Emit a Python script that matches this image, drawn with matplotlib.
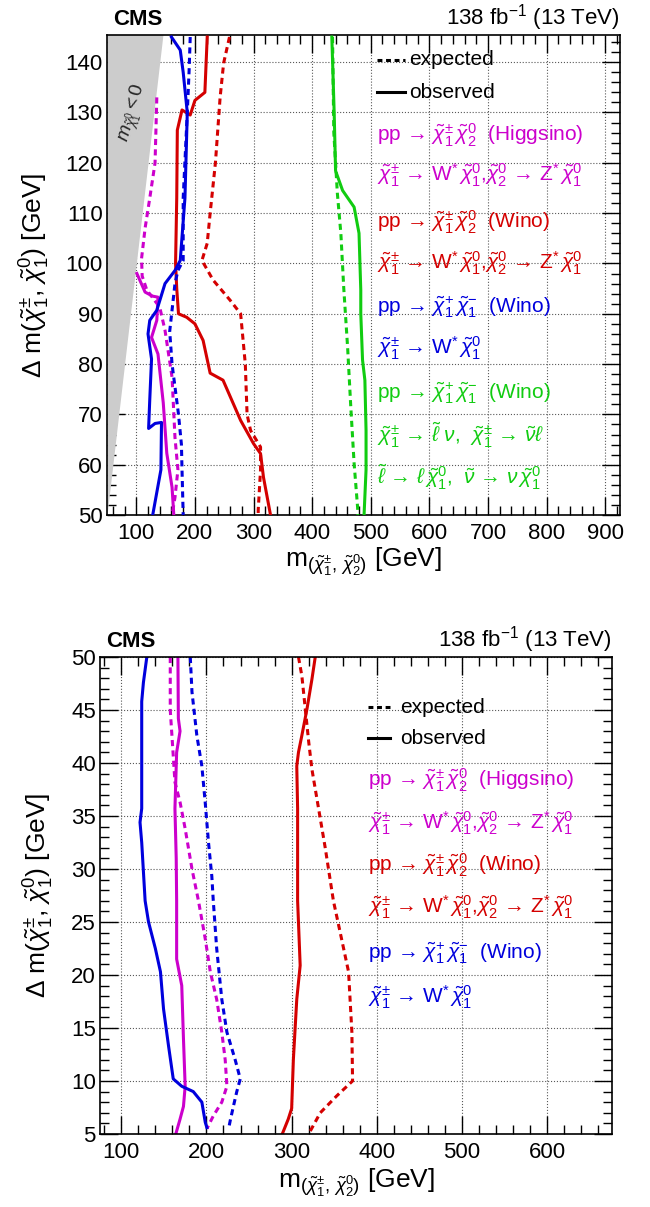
import numpy as np
import matplotlib
matplotlib.use('Agg')
import matplotlib.pyplot as plt
from matplotlib.ticker import MultipleLocator

plt.rcParams['font.family'] = ['Liberation Sans', 'DejaVu Sans']
plt.rcParams['mathtext.fontset'] = 'custom'
plt.rcParams['mathtext.rm'] = 'Liberation Sans'
plt.rcParams['mathtext.it'] = 'Liberation Sans:italic'
plt.rcParams['mathtext.bf'] = 'Liberation Sans:bold'

# ---- top panel (dm 50-145 GeV) ----
top_hig_obs_m = [101, 115, 128, 137, 135, 126, 137, 146, 152, 161, 164]
top_hig_obs_dm = [98, 94.3, 93.5, 93.3, 88.7, 85.3, 82, 72.3, 62.3, 55.5, 50]
top_hig_exp_m = [135, 132, 123, 115, 109, 110, 118, 140, 149, 161, 166, 171, 166, 161]
top_hig_exp_dm = [133, 120, 113, 107, 101, 97.5, 94.7, 91.3, 86.7, 77.4, 65.4, 59, 53.5, 50]

top_wz_obs_m = [221, 217, 200, 192, 178, 170, 169, 167, 169, 172, 186, 200, 214, 226, 248, 278, 300, 312, 317, 329]
top_wz_obs_dm = [145, 134, 132.4, 129.5, 130.5, 126.5, 113, 100, 95, 90, 89.3, 88, 84.7, 78.2, 76.8, 68.8, 64.2, 62.2, 57.5, 50]
top_wz_exp_m = [259, 249, 243, 235, 226, 221, 212, 231, 260, 278, 286, 289, 295, 312, 312, 308, 308]
top_wz_exp_dm = [145, 139.8, 133, 120, 110, 104, 100.6, 96.7, 92.7, 90, 80, 70, 66.8, 63.5, 59, 51, 50]

top_ww_obs_m = [160, 175, 180, 187, 183, 175, 166, 149, 135, 123, 120, 126, 123, 121, 132, 143, 142, 128]
top_ww_obs_dm = [145, 142.4, 138, 130, 113, 100.6, 98.6, 96, 90.7, 88.7, 86, 81, 73, 67.2, 68.2, 68.4, 59, 50]
top_ww_exp_m = [192, 190, 187, 180, 180, 171, 166, 157, 161, 172, 177, 178, 180]
top_ww_exp_dm = [145, 138, 130, 113, 100.6, 98.6, 96, 86.5, 80, 70, 64, 59, 50]

top_slep_obs_m = [433.6, 437.6, 440, 452, 471.6, 480, 483, 483, 486, 490, 492, 492, 488.6]
top_slep_obs_dm = [145, 130, 118.4, 114.5, 111.2, 106, 94.7, 90, 80.8, 76.8, 66.8, 59, 50]
top_slep_exp_m = [434.8, 437, 443, 449, 454, 460.5, 466, 471.6, 477.6, 478]
top_slep_exp_dm = [145, 126, 114, 106, 95, 83.4, 71.4, 60.3, 51.5, 50]

# kinematic boundary m(chi10) = 0  ->  dm = m
kin_m = np.array([50, 150])

# ---- bottom panel (dm 5-50 GeV) ----
bot_hig_obs_m = [166.5, 167, 169, 165, 163, 164.5, 165, 165, 171, 173, 175, 173, 169, 164]
bot_hig_obs_dm = [50, 44.2, 43, 41, 35.7, 31, 27, 21.5, 19, 14, 9.5, 7.6, 6.4, 5]
bot_hig_exp_m = [157.5, 157.5, 161, 163, 169, 175, 183, 190.6, 198.6, 204.5, 212, 218, 222, 224, 218, 208, 200.5]
bot_hig_exp_dm = [50, 45, 40.7, 38.2, 36.3, 33.8, 30, 27, 23.4, 20.3, 17.7, 14.6, 12, 9.5, 8, 6.7, 5.5]

bot_wz_obs_m = [327.7, 323.8, 318, 312, 308, 306, 307, 307, 310, 306, 302, 300, 296, 289]
bot_wz_obs_dm = [50, 47.9, 45.1, 42.6, 41, 39.7, 35.7, 27, 20.9, 17.7, 12, 7.4, 6.4, 5]
bot_wz_exp_m = [308, 312, 316, 320, 323.8, 331.6, 339.4, 349, 357, 366.8, 370.7, 371.5, 353, 333.6, 320]
bot_wz_exp_dm = [50, 48.2, 45.1, 42, 39.4, 35.7, 32, 27, 24, 20.3, 14.6, 10, 8.6, 7, 5]

bot_ww_obs_m = [130, 126, 124, 124, 122, 124, 128, 132, 140, 146, 149.6, 155.5, 161, 171, 184.5, 194.6, 196.5, 198.6, 200.5]
bot_ww_obs_dm = [50, 47.6, 45.8, 35.7, 34.4, 32.5, 27, 25, 22.5, 20.3, 16.8, 13.3, 10.2, 9.5, 9, 8, 7.1, 6.1, 5.6]
bot_ww_exp_m = [181, 183, 188.7, 194.6, 198.5, 202.4, 206.3, 208, 212, 218, 224, 233.7, 239.7, 235.6, 231.6, 228, 226]
bot_ww_exp_dm = [50, 46.7, 42.6, 39.7, 36.3, 32.5, 29.3, 27, 22.5, 17.7, 14.6, 12, 10.2, 9, 7.6, 6.3, 5.5]

MAG = '#cc00cc'
RED = '#d40000'
BLUE = '#0000dd'
GREEN = '#11cc11'
DASH = (0, (2.0, 1.4))
LW = 2.2
LEG_FS = 15

hig_1 = r'pp → $\tilde{\chi}^{\pm}_{1}\,\tilde{\chi}^{0}_{2}$  (Higgsino)'
wz_2 = r'$\tilde{\chi}^{\pm}_{1}$ → W$^{*}\,\tilde{\chi}^{0}_{1}$,$\tilde{\chi}^{0}_{2}$ → Z$^{*}\,\tilde{\chi}^{0}_{1}$'
wz_1 = r'pp → $\tilde{\chi}^{\pm}_{1}\,\tilde{\chi}^{0}_{2}$  (Wino)'
ww_1 = r'pp → $\tilde{\chi}^{+}_{1}\,\tilde{\chi}^{-}_{1}$  (Wino)'
ww_2 = r'$\tilde{\chi}^{\pm}_{1}$ → W$^{*}\,\tilde{\chi}^{0}_{1}$'
sl_2 = r'$\tilde{\chi}^{\pm}_{1}$ → $\tilde{\ell}\ \nu$,  $\tilde{\chi}^{\pm}_{1}$ → $\tilde{\nu}\ell$'
sl_3 = r'$\tilde{\ell}$ → $\ell\,\tilde{\chi}^{0}_{1}$,  $\tilde{\nu}$ → $\nu\,\tilde{\chi}^{0}_{1}$'

fig = plt.figure(figsize=(6.5, 12.07), dpi=100)
ax1 = fig.add_axes([0.1646, 0.5733, 0.789, 0.3977])
ax2 = fig.add_axes([0.1538, 0.0605, 0.7877, 0.3952])


def style_axes(ax, xmaj, ymaj, ymin):
    ax.xaxis.set_major_locator(MultipleLocator(xmaj))
    ax.xaxis.set_minor_locator(MultipleLocator(20))
    ax.yaxis.set_major_locator(MultipleLocator(ymaj))
    ax.yaxis.set_minor_locator(MultipleLocator(ymin))
    ax.tick_params(which='both', direction='in', top=True, right=True, width=1.0)
    ax.tick_params(which='major', length=13, labelsize=16)
    ax.tick_params(which='minor', length=6.5)
    ax.tick_params(axis='x', pad=6)
    ax.tick_params(axis='y', pad=3)
    ax.grid(True, which='major', linestyle=':', color='0.35', linewidth=0.8)
    ax.set_axisbelow(True)
    for s in ax.spines.values():
        s.set_linewidth(1.2)
    ax.set_xlabel(r'm$_{(\tilde{\chi}^{\pm}_{1},\,\tilde{\chi}^{0}_{2})}$ [GeV]', fontsize=19)
    ax.set_ylabel(r'$\Delta$ m($\tilde{\chi}^{\pm}_{1}$, $\tilde{\chi}^{0}_{1}$) [GeV]', fontsize=19)
    ax.text(0.012, 1.021, 'CMS', transform=ax.transAxes, fontsize=16, fontweight='bold',
            ha='left', va='baseline')
    ax.text(1.0, 1.021, r'138 fb$^{\mathregular{-1}}$ (13 TeV)', transform=ax.transAxes,
            fontsize=16, ha='right', va='baseline')


def legend_block(ax, x0, x1, xt, ys, lines):
    ax.plot([x0, x1], [ys[0], ys[0]], transform=ax.transAxes, color='k', lw=LW,
            ls=(0, (1.6, 1.2)))
    ax.plot([x0, x1], [ys[1], ys[1]], transform=ax.transAxes, color='k', lw=LW)
    ax.text(xt, ys[0], 'expected', transform=ax.transAxes, fontsize=LEG_FS, va='center')
    ax.text(xt, ys[1], 'observed', transform=ax.transAxes, fontsize=LEG_FS, va='center')
    for y, (s, c) in zip(ys[2:], lines):
        ax.text(x0, y, s, transform=ax.transAxes, fontsize=LEG_FS, color=c, va='center')


# top panel
ax1.fill_between(kin_m, kin_m, 150, color='0.8', lw=0, zorder=1)
ax1.text(95, 130, r'$m_{\tilde{\chi}^{0}_{1}} < 0$', fontsize=14, rotation=74,
         ha='center', va='center', color='0.15', zorder=2)
ax1.plot(top_hig_exp_m, top_hig_exp_dm, color=MAG, lw=LW, ls=DASH, zorder=3)
ax1.plot(top_hig_obs_m, top_hig_obs_dm, color=MAG, lw=LW, zorder=3)
ax1.plot(top_wz_exp_m, top_wz_exp_dm, color=RED, lw=LW, ls=DASH, zorder=3)
ax1.plot(top_wz_obs_m, top_wz_obs_dm, color=RED, lw=LW, zorder=3)
ax1.plot(top_ww_exp_m, top_ww_exp_dm, color=BLUE, lw=LW, ls=DASH, zorder=3)
ax1.plot(top_ww_obs_m, top_ww_obs_dm, color=BLUE, lw=LW, zorder=3)
ax1.plot(top_slep_exp_m, top_slep_exp_dm, color=GREEN, lw=LW, ls=DASH, zorder=3)
ax1.plot(top_slep_obs_m, top_slep_obs_dm, color=GREEN, lw=LW, zorder=3)
ax1.set_xlim(50, 925)
ax1.set_ylim(50, 145.4)
style_axes(ax1, 100, 10, 2)
ax1.xaxis.set_label_coords(0.5, -0.065)
ax1.yaxis.set_label_coords(-0.107, 0.5)
legend_block(ax1, 0.526, 0.581, 0.589,
             [0.948, 0.881, 0.792, 0.708, 0.610, 0.525, 0.433, 0.348, 0.254, 0.167, 0.079],
             [(hig_1, MAG), (wz_2, MAG), (wz_1, RED), (wz_2, RED), (ww_1, BLUE),
              (ww_2, BLUE), (ww_1, GREEN), (sl_2, GREEN), (sl_3, GREEN)])

# bottom panel
ax2.plot(bot_hig_exp_m, bot_hig_exp_dm, color=MAG, lw=LW, ls=DASH)
ax2.plot(bot_hig_obs_m, bot_hig_obs_dm, color=MAG, lw=LW)
ax2.plot(bot_wz_exp_m, bot_wz_exp_dm, color=RED, lw=LW, ls=DASH)
ax2.plot(bot_wz_obs_m, bot_wz_obs_dm, color=RED, lw=LW)
ax2.plot(bot_ww_exp_m, bot_ww_exp_dm, color=BLUE, lw=LW, ls=DASH)
ax2.plot(bot_ww_obs_m, bot_ww_obs_dm, color=BLUE, lw=LW)
ax2.set_xlim(75, 676)
ax2.set_ylim(5, 50)
style_axes(ax2, 100, 5, 1)
ax2.xaxis.set_label_coords(0.5, -0.068)
ax2.yaxis.set_label_coords(-0.086, 0.5)
legend_block(ax2, 0.523, 0.566, 0.586,
             [0.895, 0.830, 0.742, 0.652, 0.564, 0.476, 0.379, 0.287],
             [(hig_1, MAG), (wz_2, MAG), (wz_1, RED), (wz_2, RED), (ww_1, BLUE), (ww_2, BLUE)])

fig.savefig('out.png', dpi=100)
